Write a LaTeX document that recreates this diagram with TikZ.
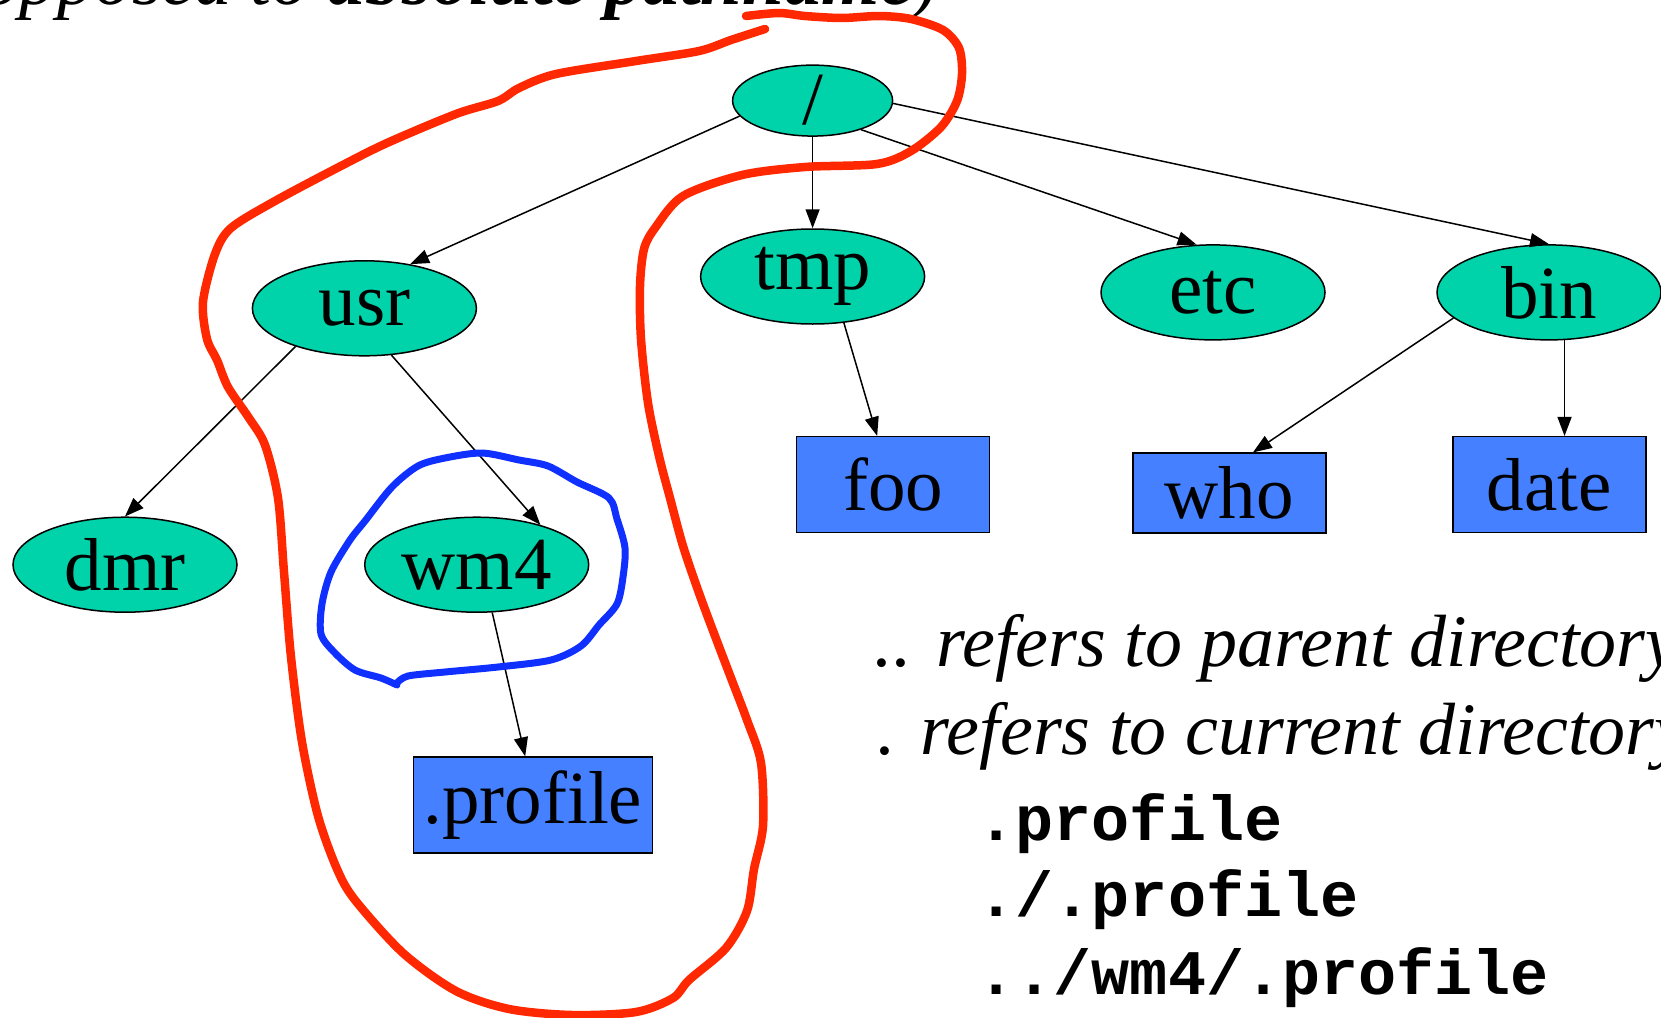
\documentclass[tikz,border=0pt]{standalone}
\usepackage{fontspec}
\setmainfont{Liberation Serif}
\newfontfamily\codefont{Liberation Mono}
\usetikzlibrary{arrows.meta,shapes.geometric}

\definecolor{dirgreen}{RGB}{0,210,170}
\definecolor{fileblue}{RGB}{68,128,255}
\definecolor{penred}{RGB}{255,40,0}
\definecolor{penblue}{RGB}{16,48,255}

\begin{document}
\begin{tikzpicture}[x=1pt,y=-1pt,
    dir/.style={ellipse,draw,line width=1.5pt,fill=dirgreen,inner sep=0pt,
      minimum width=224pt,minimum height=95pt,font=\fontsize{75}{75}\selectfont},
    file/.style={rectangle,draw,line width=1.5pt,fill=fileblue,inner sep=0pt,
      minimum width=193pt,minimum height=96pt,font=\fontsize{75}{75}\selectfont},
    link/.style={line width=1.5pt,-{Triangle[length=19pt,width=14pt]}},
    note/.style={anchor=base west,font=\itshape\fontsize{74}{74}\selectfont},
    code/.style={anchor=base west,font=\codefont\bfseries\fontsize{63.5}{63.5}\selectfont},
    pen/.style={line width=8.5pt,line cap=round,line join=round}]
  \useasboundingbox (0,0) rectangle (1661,1017);

  % directory tree
  \node[dir,minimum width=160pt,minimum height=64pt] (root) at (812.6,100.6) {/};
  \node[dir] (usr) at (364.4,308.3) {usr};
  \node[dir] (tmp) at (812.6,276.5) {tmp};
  \node[dir] (etc) at (1213,292.4) {etc};
  \node[dir] (bin) at (1549,292.4) {bin};
  \node[dir] (dmr) at (125,564.7) {dmr};
  \node[dir] (wm4) at (476.7,564.7) {wm4};
  \node[file] (foo) at (893,484.7) {foo};
  \node[file,minimum height=80pt] (who) at (1229.4,493.2) {who};
  \node[file] (date) at (1549.4,484.7) {date};
  \node[file,minimum width=239pt] (profile) at (532.9,805.1) {.profile};

  \draw[link] (root.192) -- (usr.44);
  \draw[link] (root.south) -- (tmp.north);
  \draw[link] (root.329) -- (etc.109);
  \draw[link] (root.358) -- (bin.north);
  \draw[link] (tmp.304) -- (foo.108);
  \draw[link] (bin.195) -- (who.60);
  \draw[link] (bin.288) -- (bin.288 |- date.north);
  \draw[link] (usr.209) -- (dmr.north);
  \draw[link] (usr.300) -- (wm4.32);
  \draw[link] (wm4.288) -- (profile.99);

  % text on the right
  \node[anchor=base east,font=\itshape\fontsize{75}{75}\selectfont] (title) at (942,5)
    {opposed to \textbf{absolute pathname})};
  \node[note] (parent) at (871,666) {.. refers to parent directory};
  \node[note] (current) at (874,754) {. refers to current directory};
  \node[code] (plain) at (974,840) {.profile};
  \node[code] (dot) at (974,916) {./.profile};
  \node[code] (dotdot) at (974,994) {../wm4/.profile};

  % hand drawn marks
  \draw[pen,penred] plot[smooth] coordinates {
    (765,29) (731,40) (699,51) (636,61) (556,74) (519,88) (498,101) (456,114)
    (387,143) (339,167) (275,201) (231,228) (215,254) (203,302) (207,339)
    (217,360) (228,387) (249,418) (265,445) (278,498) (284,572) (291,657)
    (302,742) (318,816) (337,869) (355,900) (403,953) (456,991) (509,1009)
    (572,1015) (636,1012) (673,998) (689,980) (726,948) (747,911) (754,869)
    (763,826) (761,763) (747,720) (731,678) (715,636) (699,593) (683,546)
    (670,498) (659,456) (648,403) (641,339) (640,286) (644,249) (655,228)
    (683,196) (742,175) (805,167) (877,164) (911,151) (941,127) (957,101)
    (962,74) (959,48) (943,30) (911,19) (879,16) (842,18) (805,16) (779,13)
    (746,16)};
  \draw[pen,penblue,line width=7pt] plot[smooth] coordinates {
    (397,685) (381,678) (355,670) (334,652) (321,634) (322,604) (331,572)
    (350,540) (365,521) (392,487) (418,466) (445,458) (482,453) (519,460)
    (548,466) (577,482) (609,498) (617,519) (625,548) (623,577) (617,604)
    (599,625) (581,646) (551,660) (498,667) (445,672) (408,676) (397,683)};
\end{tikzpicture}
\end{document}
